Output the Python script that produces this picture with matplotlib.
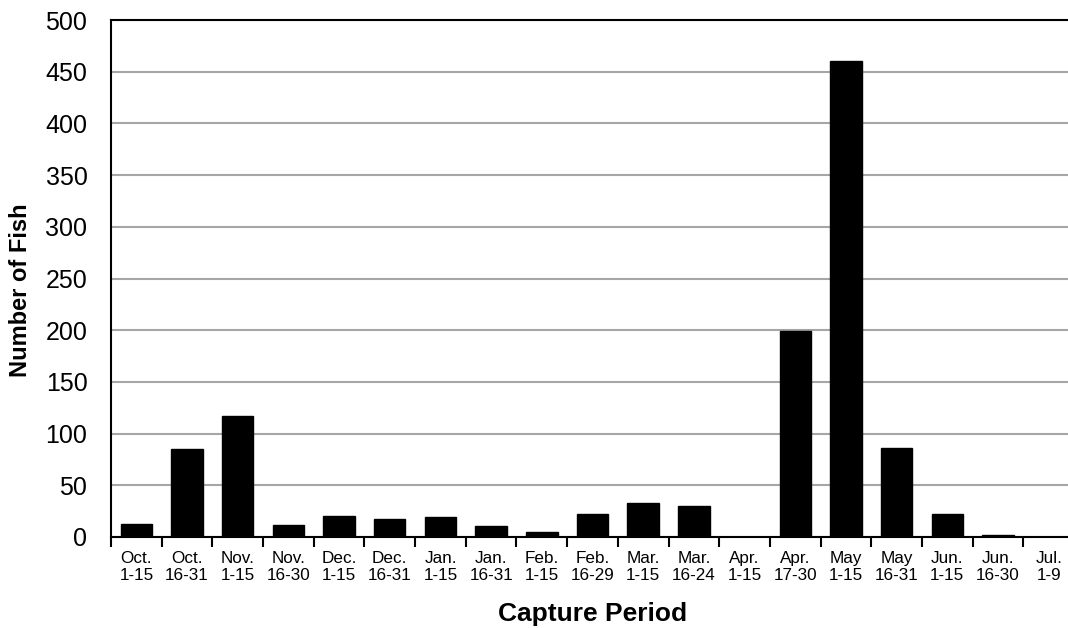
import numpy as np
import matplotlib
matplotlib.use('Agg')
import matplotlib.pyplot as plt

plt.rcParams['font.family'] = ['Liberation Sans', 'DejaVu Sans']

periods = ['Oct.\n1-15', 'Oct.\n16-31', 'Nov.\n1-15', 'Nov.\n16-30', 'Dec.\n1-15',
           'Dec.\n16-31', 'Jan.\n1-15', 'Jan.\n16-31', 'Feb.\n1-15', 'Feb.\n16-29',
           'Mar.\n1-15', 'Mar.\n16-24', 'Apr.\n1-15', 'Apr.\n17-30', 'May\n1-15',
           'May\n16-31', 'Jun.\n1-15', 'Jun.\n16-30', 'Jul.\n1-9']
fish = [13, 85, 117, 12, 20, 17, 19, 11, 5, 22, 33, 30, 0, 199, 460, 86, 22, 2, 0]

fig = plt.figure(figsize=(10.68, 6.28), dpi=100)
ax = fig.add_axes([111/1068, 1 - 537/628, 963/1068, 517/628])

x = np.arange(len(periods))
ax.bar(x, fish, width=0.62, color='black', edgecolor='black', zorder=3)

ax.set_xlim(-0.5, len(periods) - 0.5)
ax.set_ylim(0, 500)
ax.set_yticks(range(0, 501, 50))
ax.yaxis.grid(True, color='#a6a6a6', linewidth=1.5, zorder=0)

ax.set_xticks(x)
ax.set_xticklabels(periods, fontsize=12.3, linespacing=1.15)
ax.set_xticks(np.arange(len(periods) + 1) - 0.5, minor=True)
ax.tick_params(axis='x', which='major', length=0, pad=10)
ax.tick_params(axis='x', which='minor', length=7, width=1.5, direction='out')
ax.tick_params(axis='y', length=0, labelsize=18, pad=17)

for s in ax.spines.values():
    s.set_linewidth(1.5)

ax.set_ylabel('Number of Fish', fontsize=17, fontweight='bold')
ax.yaxis.set_label_coords(-(111 - 32) / 963, (537 - 290) / 517)
ax.set_xlabel('Capture Period', fontsize=19, fontweight='bold', labelpad=14)

fig.savefig('out.png', dpi=100)
